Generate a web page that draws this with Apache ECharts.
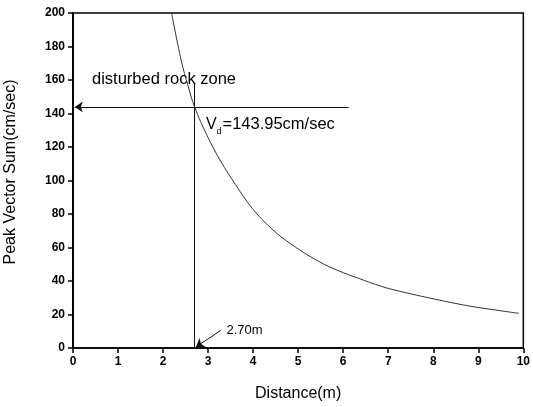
<!DOCTYPE html>
<html>
<head>
<meta charset="utf-8">
<script src="https://cdn.jsdelivr.net/npm/echarts@6/dist/echarts.min.js"></script>
<style>
  html, body { margin: 0; padding: 0; background: #fff; }
  #chart { width: 533px; height: 407px; }
</style>
</head>
<body>
<div id="chart"></div>
<script>
// values
var distance = [2.19, 2.40, 2.56, 2.70, 2.98, 3.28, 3.61, 3.98, 4.42, 4.86, 5.45, 5.89, 6.34, 6.85, 7.22, 8.03, 8.77, 9.35, 9.90];
var pvs      = [200, 172, 156, 143.95, 126.7, 111.5, 97.5, 83.4, 71.0, 61.7, 51.8, 46.2, 41.6, 36.8, 34.1, 29.2, 25.2, 22.8, 20.7];

var vd = 143.95;
var dd = 2.70;
var hLine = [[6.12, vd], [0.04, vd]];          // arrow to y axis
var vLine = [[dd, 0], [dd, 158]];
var dArrow = [[3.28, 10.5], [2.73, 0.6]];      // arrow for the 2.70m label

var curve = [];
for (var i = 0; i < distance.length; i++) {
    curve.push([distance[i], pvs[i]]);
}

var chart = echarts.init(document.getElementById('chart'));
var font = 'Liberation Sans, Arial, sans-serif';

chart.setOption({
    animation: false,
    backgroundColor: '#fff',
    grid: {
        left: 73, right: 7, top: 13, bottom: 56,
        show: true, borderColor: '#000', borderWidth: 1.5
    },
    xAxis: {
        type: 'value', min: 0, max: 10, interval: 1,
        name: 'Distance(m)', nameLocation: 'middle', nameGap: 38,
        nameTextStyle: { fontFamily: font, fontSize: 16, color: '#000' },
        axisLine: { lineStyle: { color: '#000', width: 1.5 } },
        axisTick: { length: 5, lineStyle: { color: '#000', width: 1.5 } },
        axisLabel: { fontFamily: font, fontSize: 12, fontWeight: 'bold', color: '#000', margin: 8 },
        splitLine: { show: false }
    },
    yAxis: {
        type: 'value', min: 0, max: 200, interval: 20,
        axisLine: { show: true, lineStyle: { color: '#000', width: 2 } },
        axisTick: { show: true, length: 5, lineStyle: { color: '#000', width: 1.5 } },
        axisLabel: { fontFamily: font, fontSize: 12, fontWeight: 'bold', color: '#000', margin: 8 },
        splitLine: { show: false }
    },
    series: [
        {
            type: 'line', data: curve, smooth: 0.4, symbol: 'none',
            lineStyle: { color: '#333', width: 1 }
        },
        {
            type: 'lines', coordinateSystem: 'cartesian2d', polyline: false,
            symbol: ['none', 'arrow'], symbolSize: 8,
            lineStyle: { color: '#111', width: 1, opacity: 1 },
            data: [{ coords: hLine }, { coords: dArrow }]
        },
        {
            type: 'lines', coordinateSystem: 'cartesian2d',
            symbol: 'none',
            lineStyle: { color: '#111', width: 1, opacity: 1 },
            data: [{ coords: vLine }]
        }
    ],
    graphic: [
        {
            type: 'text', x: 11, y: 172, rotation: Math.PI / 2,
            style: { text: 'Peak Vector Sum(cm/sec)', font: '16px ' + font, fill: '#000', align: 'center', verticalAlign: 'middle' }
        },
        {
            type: 'text', x: 92, y: 79,
            style: { text: 'disturbed rock zone', font: '16.5px ' + font, fill: '#000', align: 'left', verticalAlign: 'middle' }
        },
        {
            type: 'text', x: 206, y: 124.5,
            style: { text: 'V', font: '16px ' + font, fill: '#000', align: 'left', verticalAlign: 'middle' }
        },
        {
            type: 'text', x: 216.5, y: 132,
            style: { text: 'd', font: '9px ' + font, fill: '#000', align: 'left', verticalAlign: 'middle' }
        },
        {
            type: 'text', x: 222.5, y: 124.5,
            style: { text: '=143.95cm/sec', font: '16.5px ' + font, fill: '#000', align: 'left', verticalAlign: 'middle' }
        },
        {
            type: 'text', x: 226.5, y: 330.5,
            style: { text: '2.70m', font: '13px ' + font, fill: '#000', align: 'left', verticalAlign: 'middle' }
        }
    ]
});
</script>
</body>
</html>
